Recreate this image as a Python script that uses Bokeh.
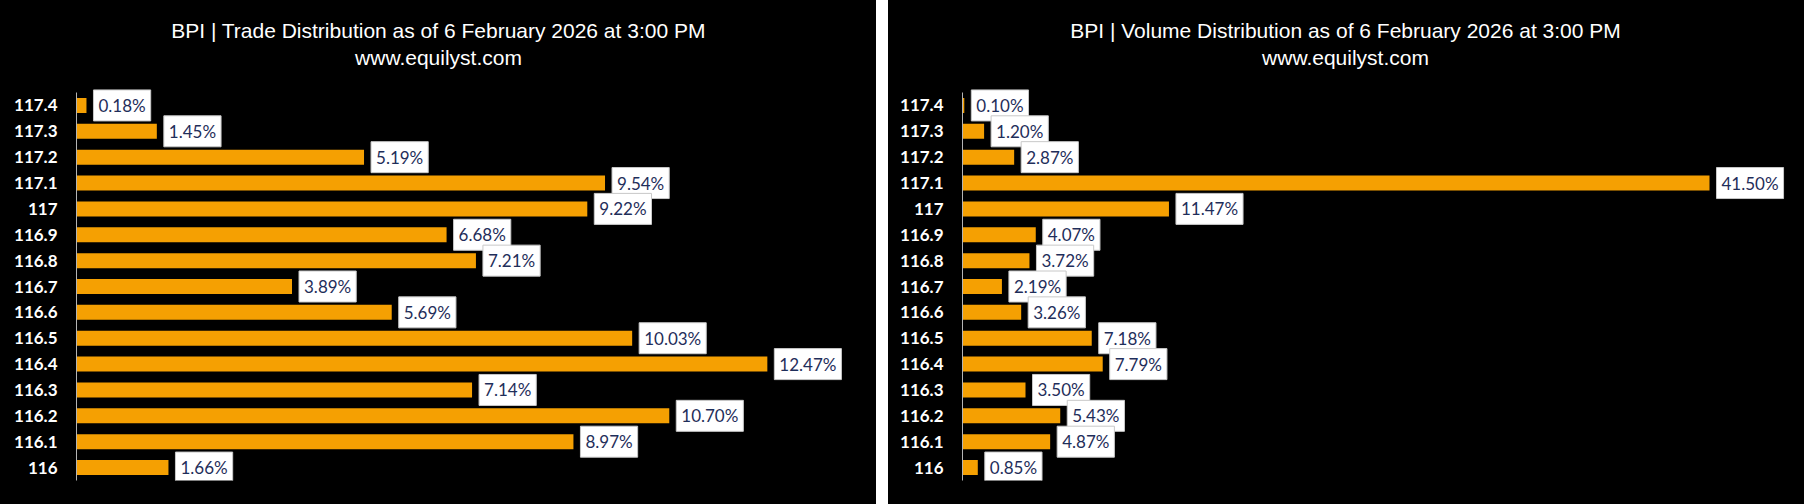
from bokeh.plotting import figure
from bokeh.models import ColumnDataSource, Range1d, Label, FixedTicker
from bokeh.layouts import row
from bokeh.embed import file_html
from bokeh.resources import INLINE
from bokeh.core.properties import value

prices = ["117.4", "117.3", "117.2", "117.1", "117", "116.9", "116.8", "116.7",
          "116.6", "116.5", "116.4", "116.3", "116.2", "116.1", "116"]
trade_pct = [0.18, 1.45, 5.19, 9.54, 9.22, 6.68, 7.21, 3.89,
             5.69, 10.03, 12.47, 7.14, 10.70, 8.97, 1.66]
volume_pct = [0.10, 1.20, 2.87, 41.50, 11.47, 4.07, 3.72, 2.19,
              3.26, 7.18, 7.79, 3.50, 5.43, 4.87, 0.85]

title_trade = "BPI | Trade Distribution as of 6 February 2026 at 3:00 PM"
title_volume = "BPI | Volume Distribution as of 6 February 2026 at 3:00 PM"
subtitle = "www.equilyst.com"

BAR = "#F5A002"
NAVY = "#1F2E5A"
H = 504
BOTTOM = 24
FRAME_H = H - BOTTOM          # frame covers title area too
CAT_TOP_PX = 92               # page y of top edge of first category
N = len(prices)
PX_PER_CAT = (FRAME_H - CAT_TOP_PX) / N
Y_TOP = N - 0.5 + CAT_TOP_PX / PX_PER_CAT


def make(vals, title, width, border_left, border_right, x_end, title_cx):
    ypos = list(range(N - 1, -1, -1))
    src = ColumnDataSource(dict(
        y=ypos, pct=vals, lab=[f"{v:.2f}%" for v in vals]))
    p = figure(width=width, height=H, output_backend="svg", toolbar_location=None,
               y_range=Range1d(-0.5, Y_TOP), x_range=Range1d(0, x_end),
               background_fill_color="black", border_fill_color="black",
               outline_line_color=None,
               min_border_left=border_left, min_border_right=border_right,
               min_border_top=0, min_border_bottom=BOTTOM)
    p.styles = {"background-color": "black"}
    p.xgrid.visible = False
    p.ygrid.visible = False
    p.xaxis.visible = False
    ax = p.yaxis[0]
    ax.ticker = FixedTicker(ticks=ypos)
    ax.major_label_overrides = {yy: lab for yy, lab in zip(ypos, prices)}
    ax.bounds = (-0.5, N - 0.5)
    ax.axis_line_color = "#b4b4b4"
    ax.axis_line_width = 1
    ax.major_tick_line_color = None
    ax.minor_tick_line_color = None
    ax.major_tick_out = 0
    ax.major_tick_in = 0
    ax.major_label_standoff = 19
    ax.major_label_text_color = "white"
    ax.major_label_text_font = "Lato"
    ax.major_label_text_font_style = "bold"
    ax.major_label_text_font_size = "17px"

    p.hbar(y="y", right="pct", left=0, height=0.58, source=src,
           fill_color=BAR, line_color=None)
    p.text(x="pct", y="y", text="lab", source=src, x_offset=7,
           text_align="left", text_baseline="middle",
           text_font=value("Lato"), text_font_size="17px", text_color=NAVY,
           background_fill_color="white", border_line_color="#c8c8c8",
           border_line_width=1, padding=5)

    for txt, yy in ((title, FRAME_H - 30), (subtitle, FRAME_H - 57)):
        p.add_layout(Label(x=title_cx, y=yy, x_units="screen", y_units="screen",
                           text=txt, text_align="center", text_baseline="middle",
                           text_color="white", text_font="Liberation Sans",
                           text_font_size="21px"))
    return p


p1 = make(trade_pct, title_trade, 876, 76, 10, 790 / 55.4, 438 - 76)
p2 = make(volume_pct, title_volume, 916, 74, 20, 822 / 18.0, 1345 - 962)

layout = row(p1, p2, spacing=12)

open("out.html", "w").write(file_html(layout, INLINE))
